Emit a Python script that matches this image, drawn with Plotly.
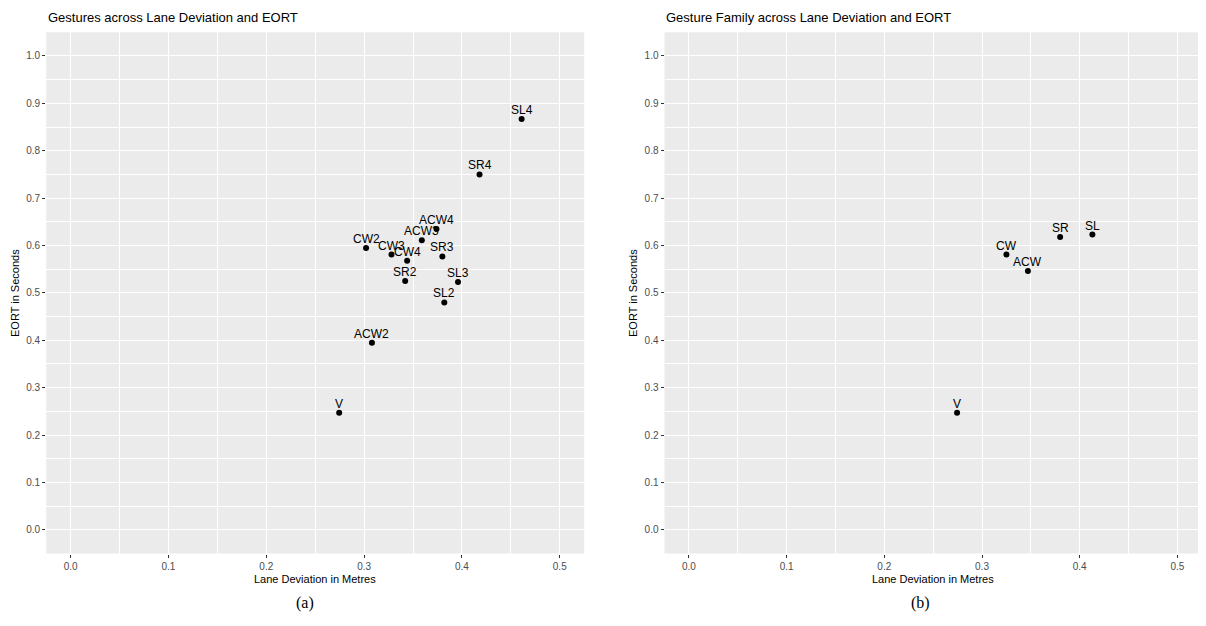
import plotly.graph_objects as go

# Gestures (panel a)
gesture = ['SL4', 'SR4', 'ACW4', 'ACW3', 'CW2', 'CW3', 'CW4', 'SR3', 'SR2', 'SL3', 'SL2', 'ACW2', 'V']
gesture_dev = [0.461, 0.418, 0.374, 0.359, 0.302, 0.328, 0.344, 0.380, 0.342, 0.396, 0.382, 0.308, 0.2745]
gesture_eort = [0.867, 0.750, 0.635, 0.611, 0.595, 0.581, 0.568, 0.577, 0.525, 0.523, 0.480, 0.395, 0.247]

# Gesture families (panel b)
family = ['SR', 'SL', 'CW', 'ACW', 'V']
family_dev = [0.380, 0.413, 0.325, 0.347, 0.2745]
family_eort = [0.618, 0.623, 0.581, 0.546, 0.247]

ticks = [0.0, 0.1, 0.2, 0.3, 0.4, 0.5]
yticks = [0.0, 0.1, 0.2, 0.3, 0.4, 0.5, 0.6, 0.7, 0.8, 0.9, 1.0]

W, H = 1206, 626
OFF = 8  # page body margin
FONT = 'Liberation Sans, Arial, sans-serif'


def px_x(p):
    return (p - OFF) / W


def px_y(p):
    return 1 - (p - OFF) / H


fig = go.Figure()

fig.add_trace(go.Scatter(
    x=gesture_dev, y=gesture_eort, mode='markers',
    marker=dict(color='black', size=6),
    xaxis='x', yaxis='y', showlegend=False, cliponaxis=False
))

fig.add_trace(go.Scatter(
    x=family_dev, y=family_eort, mode='markers',
    marker=dict(color='black', size=6),
    xaxis='x2', yaxis='y2', showlegend=False, cliponaxis=False
))

# point labels, placed just above each point
for names, xs, ys, xr, yr in [(gesture, gesture_dev, gesture_eort, 'x', 'y'),
                              (family, family_dev, family_eort, 'x2', 'y2')]:
    for t, xv, yv in zip(names, xs, ys):
        fig.add_annotation(
            text=t, x=xv, y=yv, xref=xr, yref=yr, showarrow=False,
            xanchor='center', yanchor='middle', yshift=9,
            font=dict(family=FONT, size=12, color='black')
        )

axis_common = dict(
    showgrid=True, gridcolor='white', gridwidth=1.3,
    zeroline=False, showline=False,
    ticks='outside', ticklen=3, tickwidth=1, tickcolor='#333333',
    tickfont=dict(family=FONT, size=10, color='#4D4D4D'),
    tickformat='.1f',
)
minor = dict(showgrid=True, gridcolor='white', gridwidth=0.6, dtick=0.05, tick0=0.05)

xa = dict(axis_common, range=[-0.025, 0.525], tickvals=ticks, minor=minor)
ya = dict(axis_common, range=[-0.05, 1.05], tickvals=yticks, minor=minor)

y_dom = [px_y(553.5), px_y(32.3)]

fig.update_layout(
    width=W, height=H,
    margin=dict(l=0, r=0, t=0, b=0),
    paper_bgcolor='white', plot_bgcolor='#EBEBEB',
    xaxis=dict(xa, domain=[px_x(46.2), px_x(584.2)], anchor='y'),
    yaxis=dict(ya, domain=y_dom, anchor='x'),
    xaxis2=dict(xa, domain=[px_x(664.5), px_x(1201.8)], anchor='y2'),
    yaxis2=dict(ya, domain=y_dom, anchor='x2'),
    font=dict(family=FONT),
)

serif = 'Liberation Serif, Times New Roman, serif'
notes = [
    # titles
    ('Gestures across Lane Deviation and EORT', 46, 18, 'left', 13, 0, FONT),
    ('Gesture Family across Lane Deviation and EORT', 664, 18, 'left', 13, 0, FONT),
    # axis titles
    ('Lane Deviation in Metres', 315, 579, 'center', 11, 0, FONT),
    ('Lane Deviation in Metres', 933, 579, 'center', 11, 0, FONT),
    ('EORT in Seconds', 15, 293, 'center', 11, -90, FONT),
    ('EORT in Seconds', 633, 293, 'center', 11, -90, FONT),
    # captions
    ('(a)', 305, 603, 'center', 16, 0, serif),
    ('(b)', 920, 603, 'center', 16, 0, serif),
]
for text, x, y, anchor, size, angle, fam in notes:
    fig.add_annotation(
        text=text, x=px_x(x), y=px_y(y), xref='paper', yref='paper',
        xanchor=anchor, yanchor='middle', showarrow=False,
        textangle=angle, font=dict(family=fam, size=size, color='black')
    )

fig.write_html('out.html')
